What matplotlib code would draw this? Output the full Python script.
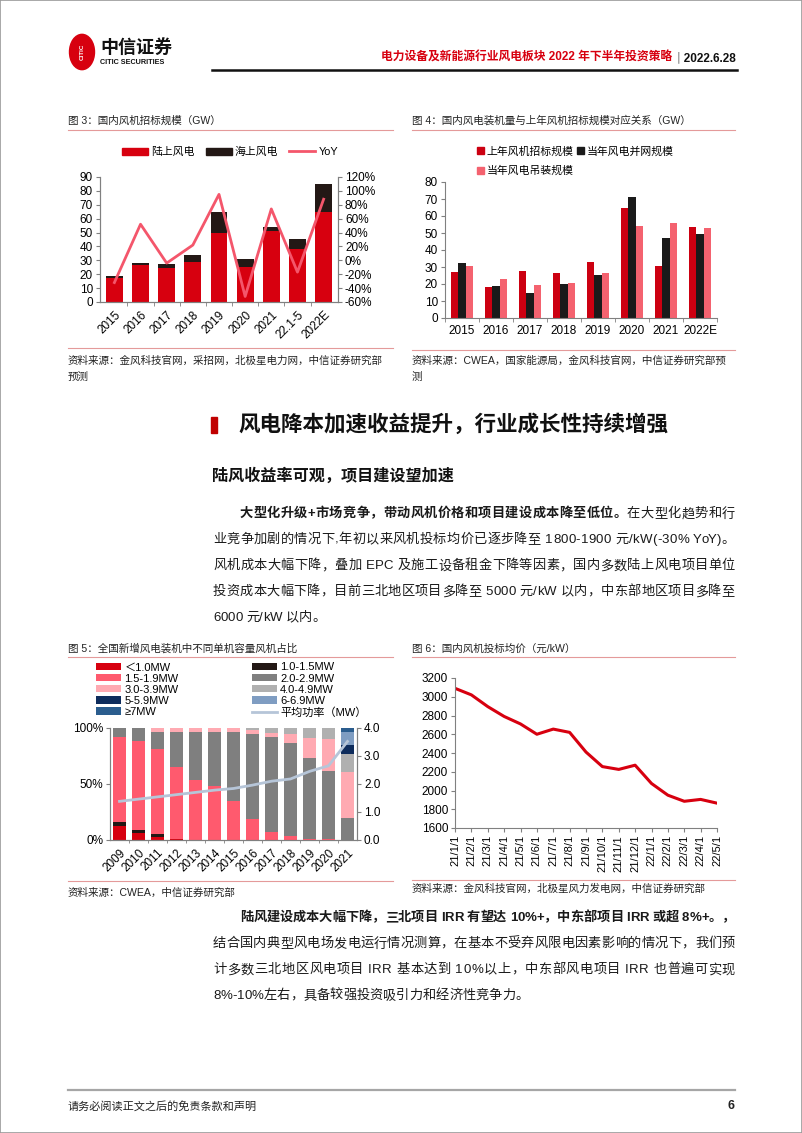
import numpy as np
import matplotlib
matplotlib.use('Agg')
import matplotlib.pyplot as plt
from matplotlib.patches import Patch, Rectangle, Circle
from matplotlib.lines import Line2D
from matplotlib.ticker import FixedLocator, FuncFormatter

W, H = 802, 1133
FONT = ['Liberation Sans', 'Noto Sans CJK SC', 'DejaVu Sans']
plt.rcParams['font.family'] = FONT
plt.rcParams['axes.unicode_minus'] = False

RED = '#d7000f'
DARK = '#231815'
PINK = '#f4566b'
SEP = '#e49a9a'
GRAY = '#808080'

# ---- chart 3 data
years3 = ['2015', '2016', '2017', '2018', '2019', '2020', '2021', '22.1-5', '2022E']
onshore3 = [17.2, 26.3, 24.2, 28.9, 50, 25.1, 51, 38, 65]
offshore3 = [1.5, 1.9, 3.1, 4.6, 15, 6, 2.8, 7, 20]
yoy3 = [-32, 52, -4, 22, 95, -52, 74, -17, 88]

# ---- chart 4 data
years4 = ['2015', '2016', '2017', '2018', '2019', '2020', '2021', '2022E']
bid_prev4 = [26.9, 18.3, 27.9, 26.7, 33, 64.8, 30.6, 53.6]
grid4 = [32.4, 18.9, 14.7, 20.2, 25.3, 71.3, 47.3, 49.5]
install4 = [30.3, 23, 19.5, 20.6, 26.5, 54, 55.6, 52.7]

# ---- chart 5 data (% of new installations)
years5 = ['2009', '2010', '2011', '2012', '2013', '2014', '2015', '2016', '2017', '2018', '2019', '2020', '2021']
cats5 = ['＜1.0MW', '1.0-1.5MW', '1.5-1.9MW', '2.0-2.9MW', '3.0-3.9MW', '4.0-4.9MW', '5-5.9MW', '6-6.9MW', '≥7MW']
lt10 = [12.5, 6, 2.5, 0.5, 0, 0, 0, 0, 0, 0, 0, 0, 0]
s1015 = [4, 3, 2.5, 0.5, 0, 0, 0, 0, 0, 0, 0, 0, 0]
s1519 = [75.5, 79.5, 76, 64.5, 54, 48, 35, 19, 6.7, 3.8, 1, 1, 0]
s2029 = [8, 11.5, 15.5, 31, 42.5, 48, 61.5, 76, 85.3, 83.2, 72, 61, 19.6]
s3039 = [0, 0, 3.5, 3.5, 3.5, 4, 3.5, 3.5, 3.6, 7.4, 18.5, 28.4, 41]
s4049 = [0, 0, 0, 0, 0, 0, 0, 1.5, 4.4, 5.6, 8.5, 9.6, 16.4]
s5059 = [0, 0, 0, 0, 0, 0, 0, 0, 0, 0, 0, 0, 8]
s6069 = [0, 0, 0, 0, 0, 0, 0, 0, 0, 0, 0, 0, 11.5]
ge7 = [0, 0, 0, 0, 0, 0, 0, 0, 0, 0, 0, 0, 3.5]
avg_mw5 = [1.38, 1.46, 1.54, 1.62, 1.70, 1.78, 1.84, 1.96, 2.10, 2.18, 2.45, 2.65, 3.52]
colors5 = [RED, DARK, '#ff5a6e', '#7f7f7f', '#ffaab2', '#b0b0b0', '#0e2c5c', '#7f9dc2', '#2b5d8e']

# ---- chart 6 data
months6 = ['21/1/1', '21/2/1', '21/3/1', '21/4/1', '21/5/1', '21/6/1', '21/7/1', '21/8/1', '21/9/1',
           '21/10/1', '21/11/1', '21/12/1', '22/1/1', '22/2/1', '22/3/1', '22/4/1', '22/5/1']
price6 = [3090, 3020, 2895, 2790, 2710, 2600, 2655, 2620, 2410, 2255, 2225, 2270, 2075, 1950, 1885, 1905, 1865]

fig = plt.figure(figsize=(W / 100, H / 100), dpi=100)
renderer = fig.canvas.get_renderer()


def box(x0, y0, x1, y1):
    return [x0 / W, 1 - y1 / H, (x1 - x0) / W, (y1 - y0) / H]


def ftext(x, y, s, **kw):
    kw.setdefault('va', 'center')
    return fig.text(x / W, 1 - y / H, s, **kw)


def hline(x0, x1, y, color, lw):
    fig.add_artist(Line2D([x0 / W, x1 / W], [1 - y / H, 1 - y / H], color=color, lw=lw))


def style(ax, size=8.5):
    ax.tick_params(labelsize=size, length=3, width=0.8, color=GRAY, pad=2)
    for s in ax.spines.values():
        s.set_color(GRAY)
        s.set_linewidth(0.8)
    ax.spines['top'].set_visible(False)


def text_w(s, **kw):
    t = fig.text(0, 0, s + '|', **kw)
    w = t.get_window_extent(renderer).width
    t.set_text('|')
    w -= t.get_window_extent(renderer).width
    t.remove()
    return w


def put_line(x0, x1, y, parts, justify=True, size=9.5, color='#1a1a1a'):
    chars, pos = [], []
    acc = 0
    for s, wt in parts:
        for i, c in enumerate(s):
            pos.append(acc + text_w(s[:i], size=size, weight=wt))
            chars.append((c, wt))
        acc += text_w(s, size=size, weight=wt)
    n = len(chars)
    extra = (x1 - x0 - acc) / (n - 1) if (justify and n > 1) else 0
    for i, (c, wt) in enumerate(chars):
        if c != ' ':
            ftext(x0 + pos[i] + i * extra, y, c, size=size, weight=wt, color=color)


# ---- page frame, header
fig.add_artist(Rectangle((0, 0), 1, 1, transform=fig.transFigure, fill=False, ec='#9a9a9a', lw=1.2))
fig.add_artist(Circle((82 / W, 1 - 52 / H), 12.5 / W, transform=fig.transFigure, color=RED))
ftext(82, 52, 'CITIC', size=4.5, color='white', weight='bold', ha='center', rotation=90)
ftext(100, 48, '中信证券', size=13, weight='bold', color='#111111')
ftext(100, 62, 'CITIC SECURITIES', size=5.2, weight='bold', color='#111111')
t_date = ftext(736, 58, '｜2022.6.28', size=8.5, weight='bold', ha='right', color='#111111')
dw = t_date.get_window_extent(renderer).width
ftext(736 - dw, 58, '电力设备及新能源行业风电板块 2022 年下半年投资策略', size=8.5, weight='bold',
      ha='right', color=RED)
hline(212, 737, 70, '#111111', 1.8)

# ---- chart 3
ftext(68, 121, '图 3：国内风机招标规模（GW）', size=7.6, color='#222222')
hline(68, 393, 130, SEP, 0.8)
ax3 = fig.add_axes(box(100, 177, 338, 302))
x3 = np.arange(len(years3))
ax3.bar(x3, onshore3, 0.64, color=RED, label='陆上风电')
ax3.bar(x3, offshore3, 0.64, bottom=onshore3, color=DARK, label='海上风电')
ax3.set_xlim(-0.55, len(years3) - 0.45)
ax3.set_ylim(0, 90)
ax3.set_yticks(range(0, 91, 10))
ax3.set_xticks(x3)
ax3.set_xticklabels(years3, rotation=45, ha='right', rotation_mode='anchor')
ax3.xaxis.set_minor_locator(FixedLocator(x3[:-1] + 0.5))
style(ax3)
ax3.tick_params(axis='x', which='major', length=0, pad=5)
ax3.tick_params(axis='x', which='minor', length=3, color=GRAY)
ax3r = ax3.twinx()
ax3r.plot(x3, yoy3, color=PINK, lw=2, label='YoY')
ax3r.set_ylim(-60, 120)
ax3r.set_yticks(range(-60, 121, 20))
ax3r.yaxis.set_major_formatter(FuncFormatter(lambda v, p: f'{v:.0f}%'))
style(ax3r)
h3 = [Patch(color=RED), Patch(color=DARK), Line2D([], [], color=PINK, lw=2)]
fig.legend(h3, ['陆上风电', '海上风电', 'YoY'], loc='center', bbox_to_anchor=(230 / W, 1 - 152 / H),
           ncol=3, frameon=False, fontsize=7.8, handlelength=2.4, handleheight=0.65,
           handletextpad=0.3, columnspacing=1.0, borderpad=0)
hline(68, 393, 348, SEP, 0.8)
ftext(68, 361, '资料来源：金风科技官网，采招网，北极星电力网，中信证券研究部', size=7.6, color='#222222')
ftext(68, 377, '预测', size=7.6, color='#222222')

# ---- chart 4
ftext(412, 121, '图 4：国内风电装机量与上年风机招标规模对应关系（GW）', size=7.6, color='#222222')
hline(412, 735, 130, SEP, 0.8)
ax4 = fig.add_axes(box(445, 182, 717, 318))
x4 = np.arange(len(years4))
bw = 0.215
ax4.bar(x4 - bw, bid_prev4, bw, color='#cc0011')
ax4.bar(x4, grid4, bw, color='#1a1a1a')
ax4.bar(x4 + bw, install4, bw, color='#f4626f')
ax4.set_xlim(-0.5, len(years4) - 0.5)
ax4.set_ylim(0, 80)
ax4.set_yticks(range(0, 81, 10))
ax4.set_xticks(x4)
ax4.set_xticklabels(years4)
ax4.xaxis.set_minor_locator(FixedLocator(np.arange(len(years4) + 1) - 0.5))
style(ax4)
ax4.spines['right'].set_visible(False)
ax4.tick_params(axis='x', which='major', length=0, pad=5)
ax4.tick_params(axis='x', which='minor', length=3, color=GRAY)
h4 = [Patch(color='#cc0011'), Patch(color='#f4626f'), Patch(color='#1a1a1a')]
fig.legend(h4, ['上年风机招标规模', '当年风电吊装规模', '当年风电并网规模'], loc='upper left',
           bbox_to_anchor=(477 / W, 1 - 146 / H), ncol=2, frameon=False, fontsize=7.8,
           handlelength=0.6, handleheight=0.6, handletextpad=0.3, columnspacing=0.3,
           labelspacing=0.85, borderpad=0, borderaxespad=0)
hline(412, 735, 350, SEP, 0.8)
ftext(412, 361, '资料来源：CWEA，国家能源局，金风科技官网，中信证券研究部预', size=7.6, color='#222222')
ftext(412, 377, '测', size=7.6, color='#222222')

# ---- section text
fig.add_artist(Rectangle((211 / W, 1 - 433 / H), 6 / W, 16 / H, transform=fig.transFigure, color='#c00000'))
ftext(238, 425, '风电降本加速收益提升，行业成长性持续增强', size=15.5, weight='bold', color='#111111')
ftext(212, 476, '陆风收益率可观，项目建设望加速', size=11.6, weight='bold', color='#111111')

L, R = 213, 735
put_line(240, R, 514, [('大型化升级+市场竞争，带动风机价格和项目建设成本降至低位。', 'bold'), ('在大型化趋势和行', 'normal')])
put_line(L, R, 540, [('业竞争加剧的情况下,年初以来风机投标均价已逐步降至 1800-1900 元/kW(-30% YoY)。', 'normal')])
put_line(L, R, 566, [('风机成本大幅下降，叠加 EPC 及施工设备租金下降等因素，国内多数陆上风电项目单位', 'normal')])
put_line(L, R, 592, [('投资成本大幅下降，目前三北地区项目多降至 5000 元/kW 以内，中东部地区项目多降至', 'normal')])
put_line(L, R, 618, [('6000 元/kW 以内。', 'normal')], justify=False)

put_line(240, R, 918, [('陆风建设成本大幅下降，三北项目 IRR 有望达 10%+，中东部项目 IRR 或超 8%+。，', 'bold')])
put_line(L, R, 944, [('结合国内典型风电场发电运行情况测算，在基本不受弃风限电因素影响的情况下，我们预', 'normal')])
put_line(L, R, 970, [('计多数三北地区风电项目 IRR 基本达到 10%以上，中东部风电项目 IRR 也普遍可实现', 'normal')])
put_line(L, R, 996, [('8%-10%左右，具备较强投资吸引力和经济性竞争力。', 'normal')], justify=False)

# ---- chart 5
ftext(68, 649, '图 5：全国新增风电装机中不同单机容量风机占比', size=7.6, color='#222222')
hline(68, 393, 657, SEP, 0.8)
ax5 = fig.add_axes(box(110, 728, 357, 840))
x5 = np.arange(len(years5))
series5 = [lt10, s1015, s1519, s2029, s3039, s4049, s5059, s6069, ge7]
bottom = np.zeros(len(years5))
bars5 = []
for vals, col, lab in zip(series5, colors5, cats5):
    b = ax5.bar(x5, vals, 0.66, bottom=bottom, color=col, label=lab)
    bars5.append(b)
    bottom += np.array(vals)
ax5.set_xlim(-0.5, len(years5) - 0.5)
ax5.set_ylim(0, 100)
ax5.set_yticks([0, 50, 100])
ax5.yaxis.set_major_formatter(FuncFormatter(lambda v, p: f'{v:.0f}%'))
ax5.set_xticks(x5)
ax5.set_xticklabels(years5, rotation=45, ha='right', rotation_mode='anchor')
ax5.xaxis.set_minor_locator(FixedLocator(x5[:-1] + 0.5))
style(ax5)
ax5.tick_params(axis='x', which='major', length=0, pad=5)
ax5.tick_params(axis='x', which='minor', length=2.5, color=GRAY)
ax5r = ax5.twinx()
avg_line, = ax5r.plot(x5, avg_mw5, color='#b6c5d8', lw=2)
ax5r.set_ylim(0, 4)
ax5r.set_yticks([0, 1, 2, 3, 4])
ax5r.yaxis.set_major_formatter(FuncFormatter(lambda v, p: f'{v:.1f}'))
style(ax5r)
h5 = [bars5[0], bars5[2], bars5[4], bars5[6], bars5[8], bars5[1], bars5[3], bars5[5], bars5[7], avg_line]
l5 = [cats5[0], cats5[2], cats5[4], cats5[6], cats5[8], cats5[1], cats5[3], cats5[5], cats5[7], '平均功率（MW）']
fig.legend(h5, l5, loc='upper left', bbox_to_anchor=(96 / W, 1 - 662.5 / H), ncol=2, frameon=False,
           fontsize=8, handlelength=2.25, handleheight=0.62, handletextpad=0.3, columnspacing=6.6,
           labelspacing=0.1, borderpad=0, borderaxespad=0)
hline(68, 393, 881, SEP, 0.8)
ftext(68, 893, '资料来源：CWEA，中信证券研究部', size=7.6, color='#222222')

# ---- chart 6
ftext(412, 649, '图 6：国内风机投标均价（元/kW）', size=7.6, color='#222222')
hline(412, 735, 657, SEP, 0.8)
ax6 = fig.add_axes(box(455, 678, 717, 828))
x6 = np.arange(len(months6))
ax6.plot(x6, price6, color=RED, lw=2.2)
ax6.set_xlim(0, len(months6) - 1)
ax6.set_ylim(1600, 3200)
ax6.set_yticks(range(1600, 3201, 200))
ax6.set_xticks(x6)
ax6.set_xticklabels(months6, rotation=90)
style(ax6)
ax6.spines['right'].set_visible(False)
ax6.tick_params(axis='x', pad=2, labelsize=8)
hline(412, 735, 880, SEP, 0.8)
ftext(412, 889, '资料来源：金风科技官网，北极星风力发电网，中信证券研究部', size=7.6, color='#222222')

# ---- footer
hline(68, 735, 1090, '#a6a6a6', 1.6)
ftext(68, 1106, '请务必阅读正文之后的免责条款和声明', size=8, color='#222222')
ftext(735, 1106, '6', size=9, weight='bold', ha='right', color='#222222')

fig.savefig('out.png', dpi=100)
